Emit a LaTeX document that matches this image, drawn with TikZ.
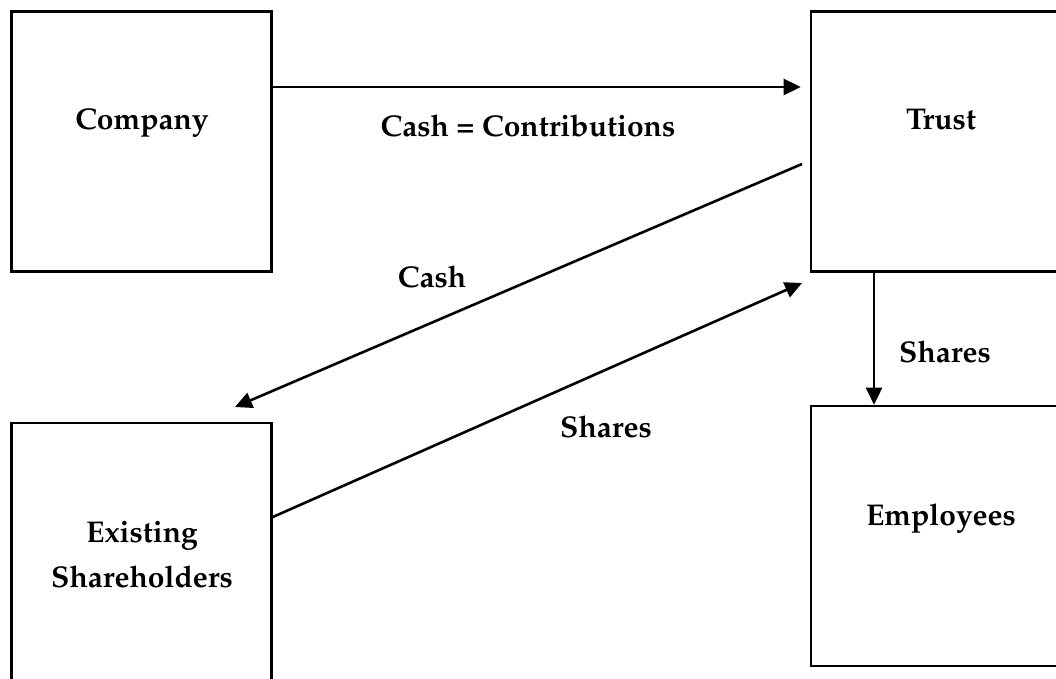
\documentclass[tikz,border=0pt]{standalone}
\usepackage[T1]{fontenc}
\usepackage{mathpazo}
\usetikzlibrary{arrows.meta}
\tikzset{
  box/.style={draw, line width=2.6pt, minimum width=260pt, minimum height=260pt, inner sep=0pt},
  lbl/.style={font=\fontsize{30}{45}\selectfont\bfseries, anchor=base, inner sep=0pt, align=center},
  flow/.style={line width=2.6pt, -{Triangle[length=17pt,width=16pt]}},
}
\begin{document}
\begin{tikzpicture}[x=1pt, y=-1pt]
  \useasboundingbox (0,0) rectangle (1056,679);
  \fill[white] (0,0) rectangle (1056,679);
  \begin{scope}
    \clip (0,0) rectangle (1056,679);
    % boxes
    \node[box] (company) at (141.5,141.5) {};
    \node[box] (trust) at (941,141.5) {};
    \node[box] (holders) at (141.5,553) {};
    \node[box] (staff) at (941,536) {};
  \end{scope}
  % box texts
  \node[lbl] (companyT) at (142,130) {Company};
  \node[lbl] (trustT) at (941,130) {Trust};
  \node[lbl] (holdersT1) at (142,542) {Existing};
  \node[lbl] (holdersT2) at (142,587) {Shareholders};
  \node[lbl] (staffT) at (941,525) {Employees};
  % flow labels
  \node[lbl] (contribT) at (528,137) {Cash = Contributions};
  \node[lbl] (cashT) at (432,287) {Cash};
  \node[lbl] (sharesT) at (606,437) {Shares};
  \node[lbl] (allocT) at (945,362) {Shares};
  % helper points for the connectors
  \coordinate (c1) at (0,87);
  \coordinate (cashA) at (802,164);
  \coordinate (cashB) at (235,407);
  \coordinate (shA) at (0,517);
  \coordinate (shB) at (802,283);
  \coordinate (dn) at (874,0);
  % connectors
  \draw[flow, shorten >=9pt] (company.east |- c1) -- (trust.west |- c1);
  \draw[flow] (cashA) -- (cashB);
  \draw[flow] (holders.east |- shA) -- (shB);
  \draw[flow] (trust.south -| dn) -- (staff.north -| dn);
\end{tikzpicture}
\end{document}
